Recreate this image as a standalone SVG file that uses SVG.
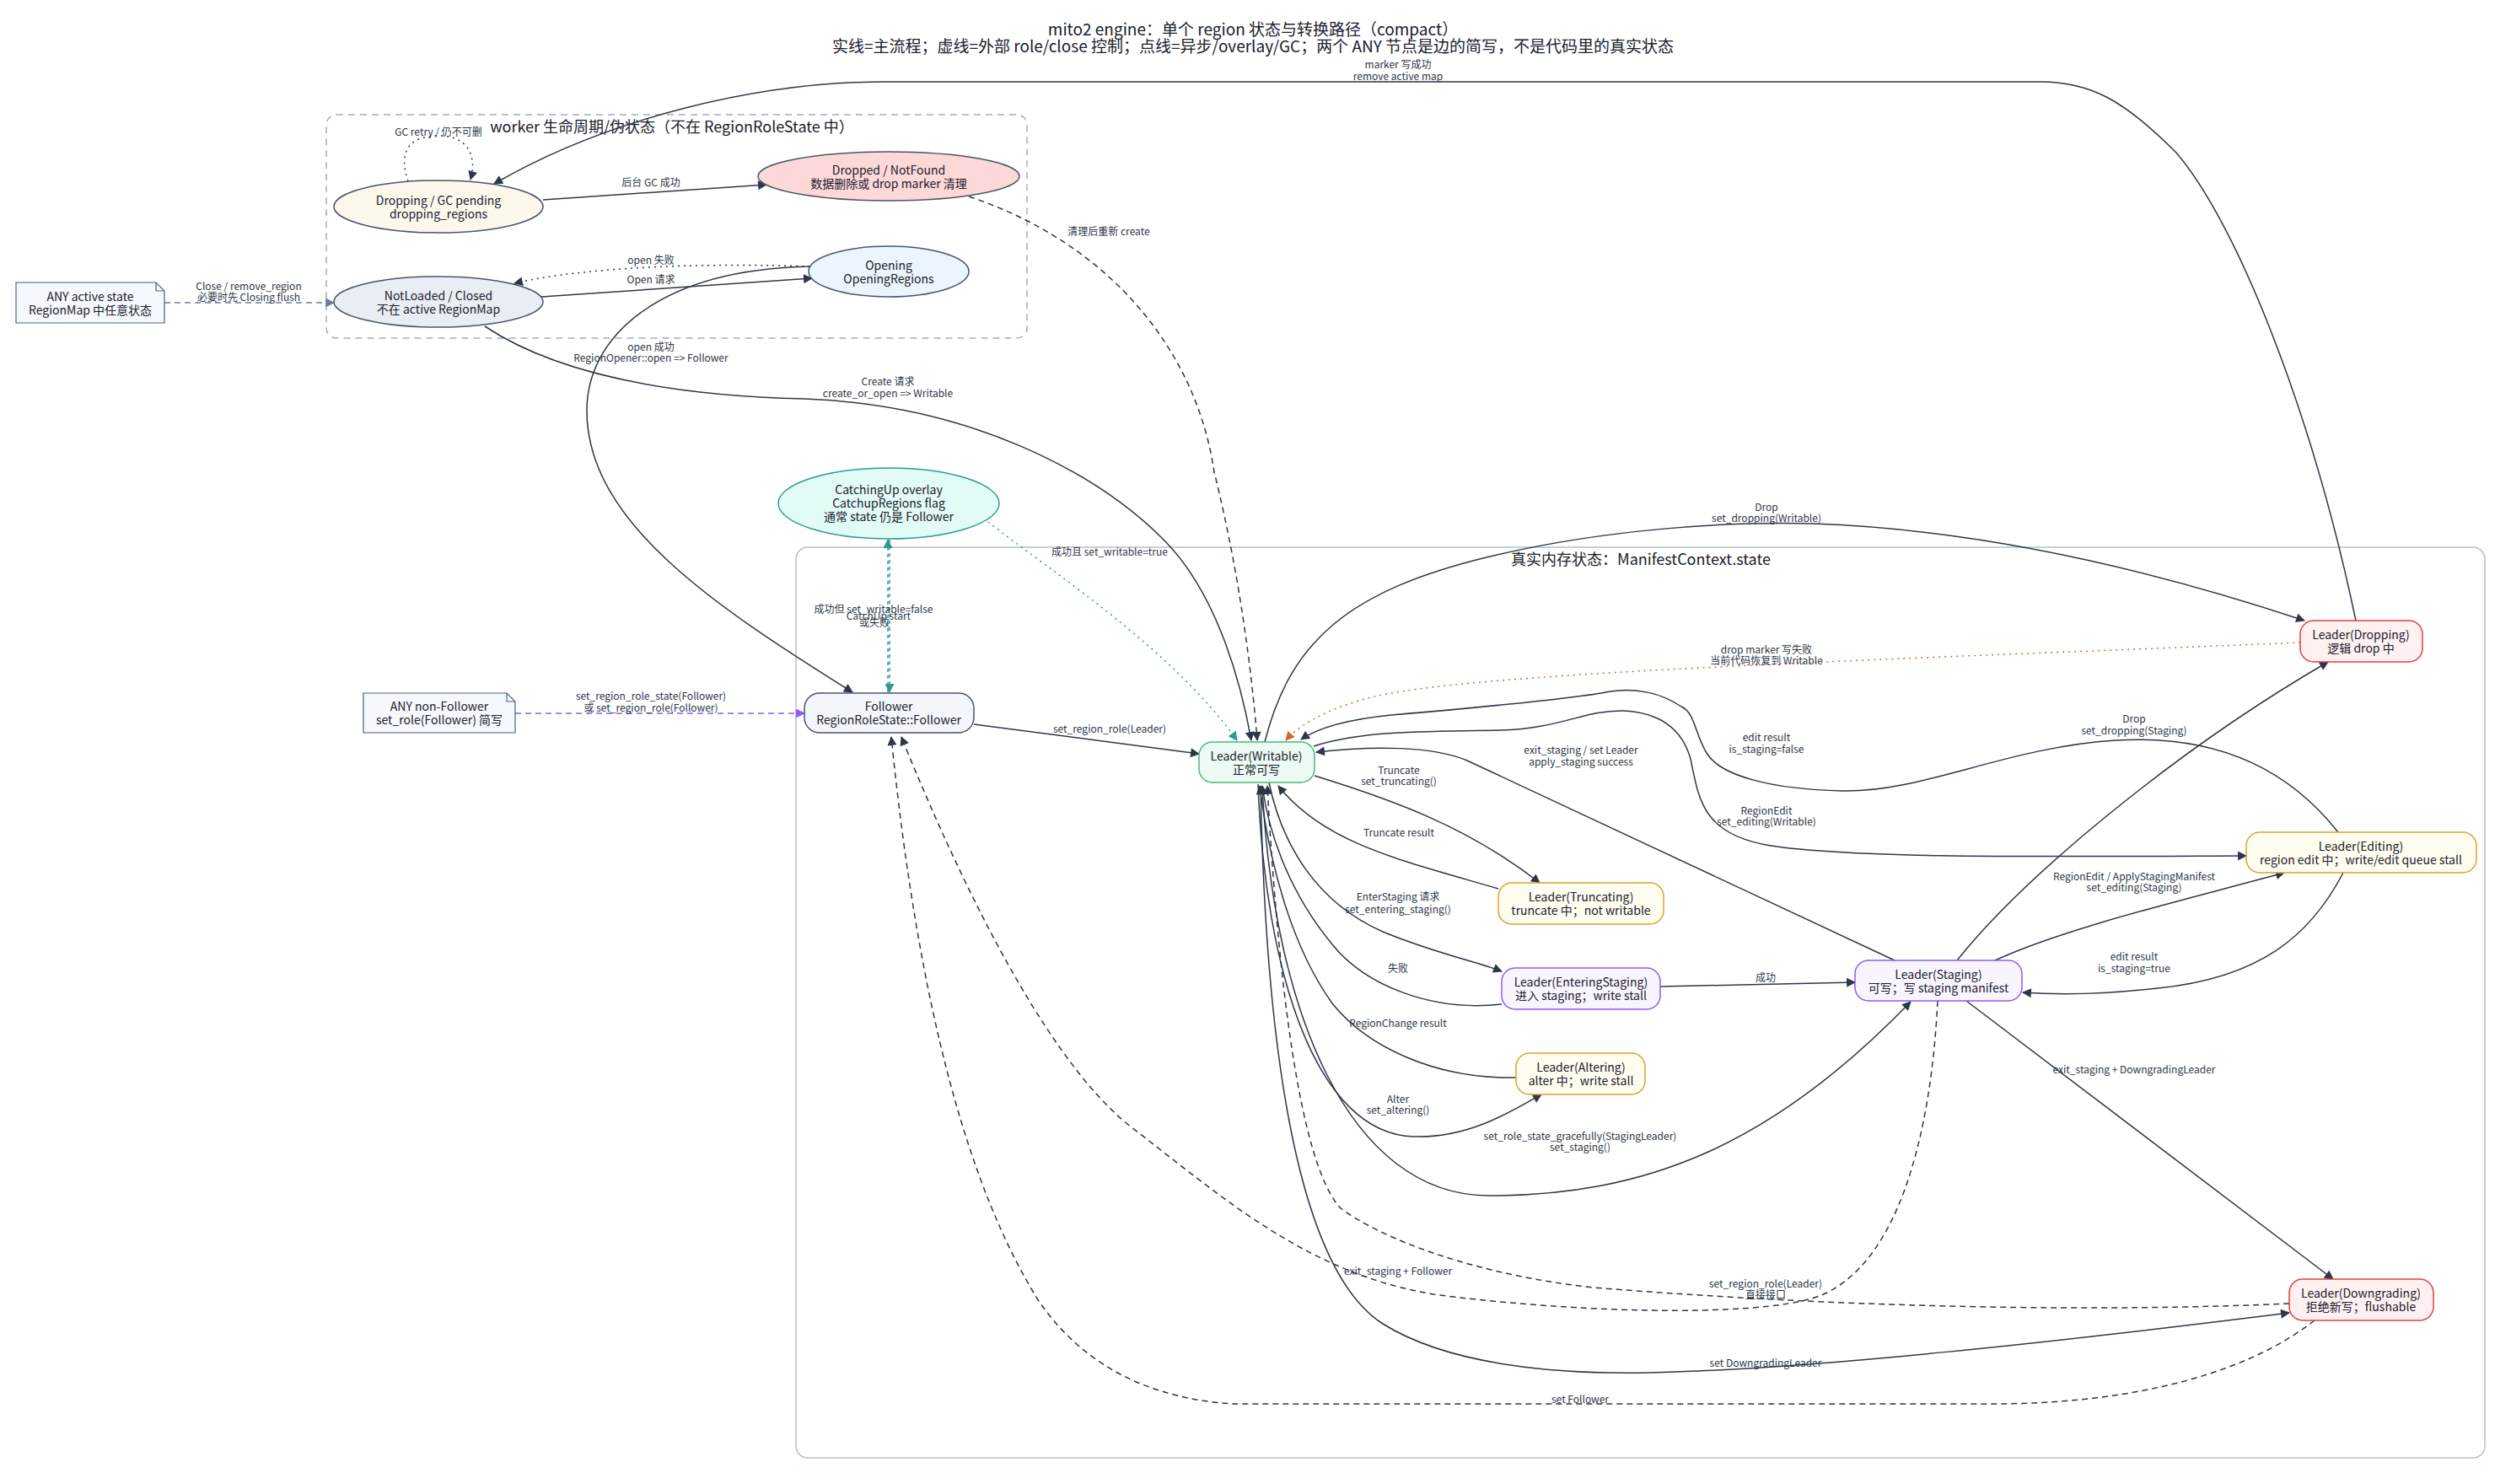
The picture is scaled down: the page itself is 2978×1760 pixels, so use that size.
<svg xmlns="http://www.w3.org/2000/svg" width="2978" height="1760" viewBox="0 0 2978 1760">
<style>
text{font-family:"Noto Sans CJK SC","Noto Sans","Liberation Sans",sans-serif;fill:#1a202c;text-anchor:middle;dominant-baseline:central}
.title{font-size:19px}
.cl{font-size:18px}
.nt{font-size:14px}
.el{font-size:12px;fill:#2d3748}
.e{fill:none;stroke:#2d3748;stroke-width:1.5}
.dash{stroke-dasharray:7,5}
.dot{stroke-dasharray:2,5}
.teal{stroke:#2a9d8f}
.orange{stroke:#d9652b}
.purple{stroke:#8b5cf6}
.slate{stroke:#6b7d99}
.ell{stroke:#4a5568;stroke-width:1.5}
.note{fill:#f5f9fd;stroke:#4a6280;stroke-width:1.2}
.yel{fill:#fffdf0;stroke:#e0a030;stroke-width:1.5}
.pur{fill:#f8f5ff;stroke:#8b5cf6;stroke-width:1.5}
.red{fill:#fff1f1;stroke:#e53e3e;stroke-width:1.5}
</style>
<defs>
<marker id="ad" viewBox="0 0 10 10" refX="9" refY="5" markerWidth="12" markerHeight="11" markerUnits="userSpaceOnUse" orient="auto"><path d="M0,0L10,5L0,10z" fill="#2d3748"/></marker>
<marker id="at" viewBox="0 0 10 10" refX="9" refY="5" markerWidth="12" markerHeight="11" markerUnits="userSpaceOnUse" orient="auto"><path d="M0,0L10,5L0,10z" fill="#2a9d8f"/></marker>
<marker id="ao" viewBox="0 0 10 10" refX="9" refY="5" markerWidth="12" markerHeight="11" markerUnits="userSpaceOnUse" orient="auto"><path d="M0,0L10,5L0,10z" fill="#d9652b"/></marker>
<marker id="ap" viewBox="0 0 10 10" refX="9" refY="5" markerWidth="12" markerHeight="11" markerUnits="userSpaceOnUse" orient="auto"><path d="M0,0L10,5L0,10z" fill="#8b5cf6"/></marker>
<marker id="as" viewBox="0 0 10 10" refX="9" refY="5" markerWidth="12" markerHeight="11" markerUnits="userSpaceOnUse" orient="auto"><path d="M0,0L10,5L0,10z" fill="#6b7d99"/></marker>
</defs>
<rect width="2978" height="1760" fill="#ffffff"/>

<g id="title">
<text class="title" x="1486" y="33">mito2 engine：单个 region 状态与转换路径（compact）</text>
<text class="title" x="1486" y="53">实线=主流程；虚线=外部 role/close 控制；点线=异步/overlay/GC；两个 ANY 节点是边的简写，不是代码里的真实状态</text>
</g>

<g id="cluster-worker">
<rect x="387" y="136" width="831" height="265" rx="12" fill="none" stroke="#a0aec0" stroke-width="1.5" stroke-dasharray="8,6"/>
<text class="cl" x="797" y="149">worker 生命周期/伪状态（不在 RegionRoleState 中）</text>
</g>
<g id="cluster-manifest">
<rect x="944" y="649" width="2003" height="1080" rx="14" fill="none" stroke="#b4c0d0" stroke-width="1.5"/>
<text class="cl" x="1946" y="662">真实内存状态：ManifestContext.state</text>
</g>

<g id="connectors">
<!-- ANY active -> NotLoaded -->
<path class="e dash slate" d="M195,359 L396,359" marker-end="url(#as)"/>
<text class="el" x="295" y="338">Close / remove_region</text>
<text class="el" x="295" y="351">必要时先 Closing flush</text>
<!-- GC retry self loop -->
<path class="e dot" d="M484,215 C472,180 485,161 520,161 C555,161 566,185 558,213" marker-end="url(#ad)"/>
<text class="el" x="520" y="155">GC retry / 仍不可删</text>
<!-- Dropping GC -> Dropped -->
<path class="e" d="M644,237 L909,219" marker-end="url(#ad)"/>
<text class="el" x="772" y="215">后台 GC 成功</text>
<!-- NotLoaded -> Opening -->
<path class="e" d="M642,352 L963,330" marker-end="url(#ad)"/>
<text class="el" x="772" y="330">Open 请求</text>
<!-- Opening -> NotLoaded fail -->
<path class="e dot" d="M960,316 C850,312 700,315 610,336" marker-end="url(#ad)"/>
<text class="el" x="772" y="307">open 失败</text>
<!-- Opening -> Follower -->
<path class="e" d="M960,316 C780,320 696,400 696,487 C696,620 850,720 1011,821" marker-end="url(#ad)"/>
<text class="el" x="772" y="410">open 成功</text>
<text class="el" x="772" y="423">RegionOpener::open =&gt; Follower</text>
<!-- NotLoaded -> Writable create -->
<path class="e" d="M575,387 C640,430 750,468 954,473 C1150,480 1300,560 1380,640 C1440,700 1470,800 1484,878" marker-end="url(#ad)"/>
<text class="el" x="1053" y="451">Create 请求</text>
<text class="el" x="1053" y="465">create_or_open =&gt; Writable</text>
<!-- Dropped -> Writable -->
<path class="e dash" d="M1149,233 C1320,290 1420,420 1440,560 C1470,680 1485,800 1491,878" marker-end="url(#ad)"/>
<text class="el" x="1315" y="273">清理后重新 create</text>
<!-- Leader Dropping -> Dropping GC -->
<path class="e" d="M2794,736 C2740,480 2650,260 2580,180 C2520,120 2480,97 2420,97 L1050,97 C900,97 720,140 586,218" marker-end="url(#ad)"/>
<text class="el" x="1658" y="75">marker 写成功</text>
<text class="el" x="1658" y="89">remove active map</text>
<!-- Follower <-> CatchingUp -->
<path class="e teal" style="stroke-dasharray:4,4" d="M1053,821 L1053,640" marker-end="url(#at)"/>
<path class="e teal" style="stroke-dasharray:4,4" d="M1055,640 L1055,821" marker-end="url(#at)"/>
<text class="el" x="1036" y="721">成功但 set_writable=false</text>
<text class="el" x="1042" y="729">CatchUp start</text>
<text class="el" x="1037" y="737">或失败</text>
<!-- CatchingUp -> Writable -->
<path class="e dot teal" d="M1172,619 C1250,680 1390,770 1467,878" marker-end="url(#at)"/>
<text class="el" x="1316" y="653">成功且 set_writable=true</text>
<!-- ANY non-Follower -> Follower -->
<path class="e dash purple" d="M611,846 L954,846" marker-end="url(#ap)"/>
<text class="el" x="772" y="824">set_region_role_state(Follower)</text>
<text class="el" x="772" y="838">或 set_region_role(Follower)</text>
<!-- Follower -> Writable -->
<path class="e" d="M1155,859 L1422,894" marker-end="url(#ad)"/>
<text class="el" x="1316" y="863">set_region_role(Leader)</text>
<!-- Writable -> Dropping -->
<path class="e" d="M1500,880 C1530,760 1600,700 1767,660 C1900,628 2050,618 2150,621 C2350,628 2550,675 2733,736" marker-end="url(#ad)"/>
<text class="el" x="2095" y="600">Drop</text>
<text class="el" x="2095" y="613">set_dropping(Writable)</text>
<!-- Dropping -> Writable orange -->
<path class="e dot orange" d="M2728,762 C2300,780 1800,795 1650,822 C1590,833 1545,855 1525,878" marker-end="url(#ao)"/>
<text class="el" x="2095" y="769">drop marker 写失败</text>
<text class="el" x="2095" y="782">当前代码恢复到 Writable</text>
<!-- Editing -> Writable -->
<path class="e" d="M2773,987 C2720,920 2640,870 2509,878 C2380,886 2280,940 2185,938 C2100,936 2040,920 2024,893 C2010,870 2010,845 1994,838 C1970,822 1940,815 1910,820 C1860,830 1720,842 1650,848 C1600,853 1565,862 1543,877" marker-end="url(#ad)"/>
<text class="el" x="2095" y="873">edit result</text>
<text class="el" x="2095" y="887">is_staging=false</text>
<!-- Writable -> Editing -->
<path class="e" d="M1558,885 C1620,865 1700,868 1780,866 C1850,864 1880,842 1925,843 C1970,845 1995,865 2005,900 C2015,950 2020,990 2100,1003 C2200,1018 2400,1016 2664,1015" marker-end="url(#ad)"/>
<text class="el" x="2095" y="960">RegionEdit</text>
<text class="el" x="2095" y="973">set_editing(Writable)</text>
<!-- Staging -> Writable -->
<path class="e" d="M2247,1139 L1740,902 C1700,885 1630,884 1561,892" marker-end="url(#ad)"/>
<text class="el" x="1875" y="888">exit_staging / set Leader</text>
<text class="el" x="1875" y="902">apply_staging success</text>
<!-- Writable -> Truncating -->
<path class="e" d="M1559,920 C1650,948 1740,980 1826,1047" marker-end="url(#ad)"/>
<text class="el" x="1659" y="912">Truncate</text>
<text class="el" x="1659" y="925">set_truncating()</text>
<!-- Truncating -> Writable -->
<path class="e" d="M1777,1054 C1660,1020 1570,1000 1516,932" marker-end="url(#ad)"/>
<text class="el" x="1659" y="986">Truncate result</text>
<!-- Writable -> EnteringStaging -->
<path class="e" d="M1505,928 C1520,1000 1560,1070 1640,1105 C1700,1130 1750,1140 1781,1152" marker-end="url(#ad)"/>
<text class="el" x="1658" y="1062">EnterStaging 请求</text>
<text class="el" x="1658" y="1077">set_entering_staging()</text>
<!-- EnteringStaging -> Writable -->
<path class="e" d="M1781,1191 C1700,1200 1620,1170 1580,1120 C1530,1060 1505,990 1497,932" marker-end="url(#ad)"/>
<text class="el" x="1658" y="1147">失败</text>
<!-- EnteringStaging -> Staging -->
<path class="e" d="M1969,1170 L2200,1165" marker-end="url(#ad)"/>
<text class="el" x="2094" y="1158">成功</text>
<!-- Altering -> Writable -->
<path class="e" d="M1798,1278 C1700,1280 1620,1240 1580,1190 C1530,1120 1505,1020 1494,932" marker-end="url(#ad)"/>
<text class="el" x="1658" y="1212">RegionChange result</text>
<!-- Writable -> Altering -->
<path class="e" d="M1492,930 C1500,1150 1560,1345 1677,1348 C1740,1350 1790,1320 1828,1298" marker-end="url(#ad)"/>
<text class="el" x="1658" y="1302">Alter</text>
<text class="el" x="1658" y="1315">set_altering()</text>
<!-- Writable -> Staging -->
<path class="e" d="M1497,932 C1510,1200 1600,1418 1766,1418 C1950,1418 2100,1360 2266,1188" marker-end="url(#ad)"/>
<text class="el" x="1874" y="1346">set_role_state_gracefully(StagingLeader)</text>
<text class="el" x="1874" y="1359">set_staging()</text>
<!-- Staging -> Dropping -->
<path class="e" d="M2321,1139 C2400,1040 2580,890 2761,785" marker-end="url(#ad)"/>
<text class="el" x="2531" y="851">Drop</text>
<text class="el" x="2531" y="865">set_dropping(Staging)</text>
<!-- Staging -> Editing -->
<path class="e" d="M2366,1139 C2450,1100 2600,1065 2709,1035" marker-end="url(#ad)"/>
<text class="el" x="2531" y="1038">RegionEdit / ApplyStagingManifest</text>
<text class="el" x="2531" y="1051">set_editing(Staging)</text>
<!-- Editing -> Staging -->
<path class="e" d="M2779,1035 C2740,1110 2680,1160 2559,1172 C2490,1180 2440,1180 2399,1177" marker-end="url(#ad)"/>
<text class="el" x="2531" y="1133">edit result</text>
<text class="el" x="2531" y="1147">is_staging=true</text>
<!-- Staging -> Downgrading -->
<path class="e" d="M2332,1187 L2767,1517" marker-end="url(#ad)"/>
<text class="el" x="2531" y="1267">exit_staging + DowngradingLeader</text>
<!-- Staging -> Follower -->
<path class="e dash" d="M2298,1187 C2290,1350 2250,1500 2158,1537 C2080,1565 1850,1555 1700,1535 C1550,1510 1450,1420 1342,1337 C1230,1250 1120,1000 1069,874" marker-end="url(#ad)"/>
<text class="el" x="1658" y="1506">exit_staging + Follower</text>
<!-- Downgrading -> Writable -->
<path class="e dash" d="M2715,1546 C2500,1556 2200,1552 1890,1527 C1750,1512 1640,1470 1590,1433 C1540,1380 1515,1150 1503,932" marker-end="url(#ad)"/>
<text class="el" x="2094" y="1521">set_region_role(Leader)</text>
<text class="el" x="2094" y="1534">直接接口</text>
<!-- Writable -> Downgrading -->
<path class="e" d="M1495,932 C1500,1200 1530,1500 1640,1570 C1720,1620 1850,1630 1954,1628 C2150,1624 2450,1590 2715,1557" marker-end="url(#ad)"/>
<text class="el" x="2094" y="1615">set DowngradingLeader</text>
<!-- Downgrading -> Follower -->
<path class="e dash" d="M2745,1566 C2650,1640 2500,1665 2362,1665 L1463,1665 C1380,1660 1290,1630 1230,1540 C1150,1410 1090,1200 1057,874" marker-end="url(#ad)"/>
<text class="el" x="1874" y="1658">set Follower</text>
</g>

<g id="node-any-active">
<path class="note" d="M19,335 H185 L195,345 V383 H19 Z"/>
<path d="M185,335 V345 H195" fill="none" stroke="#4a6280" stroke-width="1.2"/>
<text class="nt" x="107" y="351">ANY active state</text>
<text class="nt" x="107" y="367">RegionMap 中任意状态</text>
</g>
<g id="node-dropping-gc">
<ellipse class="ell" cx="520" cy="245" rx="124" ry="31" fill="#fdf8ec"/>
<text class="nt" x="520" y="237">Dropping / GC pending</text>
<text class="nt" x="520" y="253">dropping_regions</text>
</g>
<g id="node-dropped">
<ellipse class="ell" cx="1054" cy="209" rx="155" ry="29" fill="#fdd8d8"/>
<text class="nt" x="1054" y="201">Dropped / NotFound</text>
<text class="nt" x="1054" y="217">数据删除或 drop marker 清理</text>
</g>
<g id="node-opening">
<ellipse class="ell" cx="1054" cy="322" rx="95" ry="30" fill="#eaf5fd"/>
<text class="nt" x="1054" y="314">Opening</text>
<text class="nt" x="1054" y="330">OpeningRegions</text>
</g>
<g id="node-notloaded">
<ellipse class="ell" cx="520" cy="358" rx="124" ry="30" fill="#e9eef5"/>
<text class="nt" x="520" y="350">NotLoaded / Closed</text>
<text class="nt" x="520" y="366">不在 active RegionMap</text>
</g>
<g id="node-catchingup">
<ellipse cx="1054" cy="597" rx="131" ry="42" fill="#e2fbf6" stroke="#2a9d8f" stroke-width="1.5"/>
<text class="nt" x="1054" y="580">CatchingUp overlay</text>
<text class="nt" x="1054" y="596">CatchupRegions flag</text>
<text class="nt" x="1054" y="612">通常 state 仍是 Follower</text>
</g>
<g id="node-any-nonfollower">
<path class="note" d="M431,822 H601 L611,832 V869 H431 Z"/>
<path d="M601,822 V832 H611" fill="none" stroke="#4a6280" stroke-width="1.2"/>
<text class="nt" x="521" y="837">ANY non-Follower</text>
<text class="nt" x="521" y="853">set_role(Follower) 简写</text>
</g>
<g id="node-follower">
<rect x="954" y="822" width="201" height="47" rx="18" fill="#f3f7fc" stroke="#4a5568" stroke-width="1.5"/>
<text class="nt" x="1054" y="837">Follower</text>
<text class="nt" x="1054" y="853">RegionRoleState::Follower</text>
</g>
<g id="node-writable">
<rect x="1422" y="880" width="137" height="48" rx="16" fill="#ecfbf3" stroke="#48bb78" stroke-width="1.5"/>
<text class="nt" x="1490" y="896">Leader(Writable)</text>
<text class="nt" x="1490" y="912">正常可写</text>
</g>
<g id="node-dropping">
<rect class="red" x="2728" y="736" width="145" height="49" rx="16"/>
<text class="nt" x="2800" y="752">Leader(Dropping)</text>
<text class="nt" x="2800" y="768">逻辑 drop 中</text>
</g>
<g id="node-editing">
<rect class="yel" x="2664" y="987" width="273" height="48" rx="16"/>
<text class="nt" x="2800" y="1003">Leader(Editing)</text>
<text class="nt" x="2800" y="1019">region edit 中；write/edit queue stall</text>
</g>
<g id="node-truncating">
<rect class="yel" x="1777" y="1047" width="196" height="49" rx="16"/>
<text class="nt" x="1875" y="1063">Leader(Truncating)</text>
<text class="nt" x="1875" y="1079">truncate 中；not writable</text>
</g>
<g id="node-enteringstaging">
<rect class="pur" x="1781" y="1148" width="188" height="49" rx="16"/>
<text class="nt" x="1875" y="1164">Leader(EnteringStaging)</text>
<text class="nt" x="1875" y="1180">进入 staging；write stall</text>
</g>
<g id="node-staging">
<rect class="pur" x="2200" y="1139" width="198" height="48" rx="16"/>
<text class="nt" x="2299" y="1155">Leader(Staging)</text>
<text class="nt" x="2299" y="1171">可写；写 staging manifest</text>
</g>
<g id="node-altering">
<rect class="yel" x="1798" y="1249" width="153" height="49" rx="16"/>
<text class="nt" x="1875" y="1265">Leader(Altering)</text>
<text class="nt" x="1875" y="1281">alter 中；write stall</text>
</g>
<g id="node-downgrading">
<rect class="red" x="2715" y="1517" width="171" height="49" rx="16"/>
<text class="nt" x="2800" y="1533">Leader(Downgrading)</text>
<text class="nt" x="2800" y="1549">拒绝新写；flushable</text>
</g>
</svg>
